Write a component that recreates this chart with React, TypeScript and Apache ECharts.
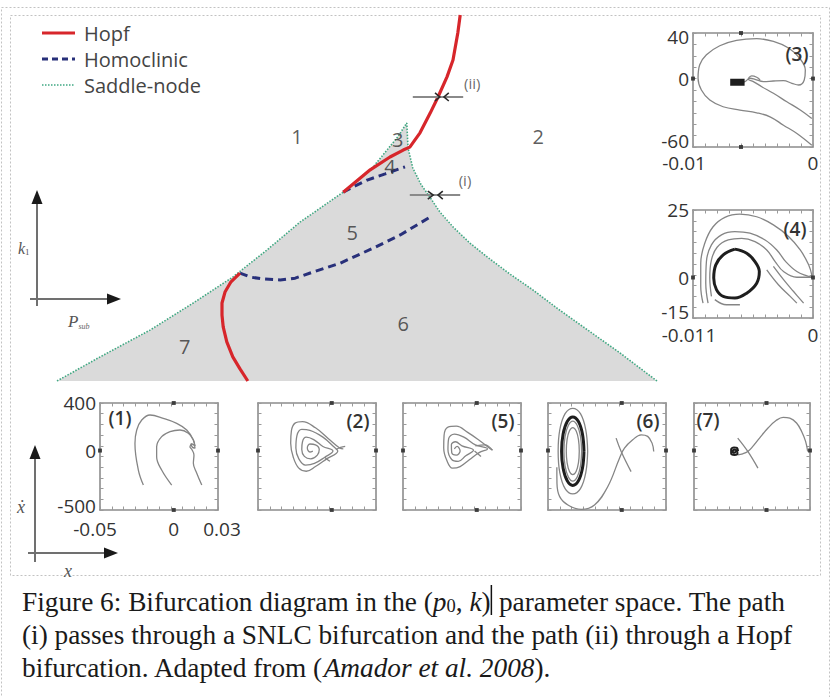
import React, { useEffect, useRef } from "react";
import * as echarts from "echarts";

type Pt = [number, number];

// ---------- bifurcation diagram in the (p_sub, k1) plane, relative units 0-100 ----------
const saddleNodeLeft: Pt[] = [[0, 0], [7.2, 6.6], [15.5, 13.9], [22.7, 21.3], [29.3, 28.4], [35, 35.8], [40.5, 43.4], [47.7, 51.6], [52.7, 58.5], [56.8, 66.7], [58.3, 70.5]];
const saddleNodeRight: Pt[] = [[58.3, 70.5], [58.5, 63.7], [59.3, 58.2], [60.7, 53.6], [62, 50.6], [63.8, 46.2], [66, 42.1], [68.8, 37.7], [71.7, 33.9], [75.5, 29.2], [79.3, 24.9], [83.5, 19.7], [87.7, 14.8], [93.8, 7.7], [100, 0]];
const hopfUpper: Pt[] = [[67.2, 100], [66.8, 95.1], [66, 87.7], [65, 83.1], [63.5, 77.6], [62.2, 73.2], [60.5, 67.8], [58.8, 63.9], [57.7, 63.1], [55.5, 61.2], [52.2, 57.7], [47.7, 51.6]];
const hopfLower: Pt[] = [[30.5, 29.5], [29, 27.1], [28, 24.3], [27.5, 21.3], [27.5, 18], [27.7, 14.8], [28.3, 10.7], [29.3, 6.6], [30.5, 3.3], [31.8, 0]];
const homoclinicUpper: Pt[] = [[47.7, 51.6], [49.7, 53.3], [51.7, 54.9], [54.7, 56.6], [58, 58.5]];
const homoclinicLower: Pt[] = [[30.5, 29.5], [32.2, 28.4], [34.2, 27.9], [37.2, 27.6], [39.7, 28.1], [42.2, 29.5], [47.2, 32.2], [52.7, 36.3], [57.2, 39.9], [62.2, 44.8]];

const regionLabels: [number, number, string][] = [[40, 66.7, "1"], [80.2, 66.7, "2"], [56.8, 66.1, "3"], [55.5, 58.5, "4"], [49.2, 40.7, "5"], [57.7, 15.8, "6"], [21.3, 9.3, "7"]];
const pathLabels: [number, number, string][] = [[68, 54.9, "(i)"], [69.2, 81.4, "(ii)"]];
const pathShafts: Pt[][] = [[[59.3, 77.6], [67.7, 77.6]], [[58.8, 50.8], [67.2, 50.8]]];
const pathHeads: Pt[][] = [
  [[63, 78.7], [63.8, 77.6], [63, 76.5]], [[65.3, 78.7], [64.5, 77.6], [65.3, 76.5]],
  [[61.8, 51.9], [62.7, 50.8], [61.8, 49.7]], [[64.3, 51.9], [63.5, 50.8], [64.3, 49.7]],
];

// ---------- phase portraits (x, x-dot) ----------
const phase3Thin: Pt[][] = [
  [[-0.0001, -58.5], [-0.00134, -48.2], [-0.00246, -40.9], [-0.00358, -33.5], [-0.00469, -30], [-0.00609, -27.6], [-0.00749, -24.7], [-0.0086, -18.8], [-0.0093, -10], [-0.00958, 0.3], [-0.00944, 12.1], [-0.00888, 20.9], [-0.00777, 28.8], [-0.00637, 33.5], [-0.00469, 35], [-0.0033, 32.6], [-0.00204, 26.8], [-0.00112, 17.9], [-0.00064, 7.6], [-0.00073, -1.2], [-0.0012, -5.6], [-0.00176, -4.1], [-0.00246, -1.8], [-0.0033, -2.1], [-0.00413, -2.6], [-0.00483, -0.6], [-0.00525, 0.3], [-0.00567, -2.6], [-0.00609, -3.5]],
  [[-0.0001, -35], [-0.00106, -27.6], [-0.00218, -20.3], [-0.0033, -12.9], [-0.00427, -7.1], [-0.00497, -2.6], [-0.00539, -0.6], [-0.00511, 2.4], [-0.00469, 1.2], [-0.00441, -1.2]],
];
const phase3Core: Pt[][] = [[[-0.0069, -3.3], [-0.0057, -3.3]]];

const phase4Thin: Pt[][] = [
  [[-0.01008, -9.5], [-0.01029, -3.3], [-0.01029, 5.3], [-0.00992, 12.7], [-0.00916, 18.8], [-0.00808, 22.3], [-0.0067, 23.5], [-0.00516, 22.5], [-0.00363, 19.5], [-0.00224, 15.2], [-0.00117, 10.2], [-0.0004, 4.7], [-0.00009, 0.6]],
  [[-0.00962, -9.5], [-0.00983, -2.1], [-0.00977, 5.9], [-0.00931, 12.1], [-0.00839, 15.8], [-0.00716, 17], [-0.00578, 16.4], [-0.00439, 13.9], [-0.00332, 10.2], [-0.0025, 5.9], [-0.00148, 2.2], [-0.00055, 0.6], [-0.00009, 0.1]],
  [[-0.00931, -7], [-0.00946, -0.2], [-0.00931, 6.5], [-0.00879, 11.2], [-0.00777, 13.9], [-0.00654, 14.5], [-0.00532, 13.3], [-0.00424, 10.2], [-0.00347, 5.9], [-0.0027, 2.2], [-0.00148, 0.1], [-0.00009, 0.1]],
  [[-0.00363, 4.1], [-0.0027, -0.8], [-0.00178, -5.2], [-0.00086, -9.5]],
  [[-0.00424, 2.8], [-0.00317, -2.7], [-0.00209, -7], [-0.00148, -9.5]],
  [[-0.009, -8.2], [-0.00793, -10.1], [-0.0067, -10.1]],
];
const phase4Core: Pt[][] = [
  [[-0.00716, 10.5], [-0.00608, 9], [-0.00532, 5.9], [-0.00492, 2.2], [-0.00516, -2.1], [-0.00608, -5.8], [-0.00716, -7.6], [-0.00823, -7], [-0.00885, -4.5], [-0.0091, -0.2], [-0.00891, 4.7], [-0.00823, 8.4], [-0.00716, 10.5]],
];

const phase1Thin: Pt[][] = [
  [[-0.0206, -290], [-0.024, -164], [-0.0263, 60], [-0.0251, 173], [-0.0217, 257], [-0.0161, 299], [-0.0071, 271], [0.002, 229], [0.0088, 173], [0.0133, 89], [0.0144, 20], [0.0125, 30], [0.0118, 60]],
  [[-0.0014, -290], [-0.0082, -164], [-0.0116, -52], [-0.0116, 32], [-0.0082, 117], [-0.0025, 159], [0.0042, 173], [0.0099, 145], [0.0133, 89], [0.0144, 38]],
  [[0.019, -290], [0.0156, -191], [0.0133, -107], [0.0137, -37], [0.0122, 11], [0.011, 30], [0.0124, 55], [0.0144, 38]],
];

// panels (2), (5), (6), (7): percent of the panel extent
const phase2Thin: Pt[][] = [
  [[72.3, 57.1], [69.2, 58], [59.7, 66.7], [48.7, 76.8], [37.7, 82.6], [31.4, 81.2], [28.3, 73.9], [27.7, 62.3], [29.9, 49.3], [34.6, 39.1], [40.9, 36.2], [48.7, 40.6], [58.2, 47.8], [67.6, 55.1], [64.5, 58.8], [55, 68.1], [44, 74.5], [37.1, 75.4], [33, 69.6], [32.1, 58], [34.6, 47.8], [40.3, 42], [47.8, 43.5], [56.6, 49.3], [63.5, 55.1], [55, 59.4], [47.2, 65.8], [40.9, 68.1], [37.7, 63.8], [37.1, 56.5], [39.3, 50.1], [44.7, 47.8], [50.3, 51.3], [51.9, 56.5], [48.7, 60.9], [44, 61.7], [41.8, 58], [44, 54.2], [46.5, 55.1]],
  [[66, 56.5], [70, 58.5], [73.9, 59.4]],
  [[56.6, 49.3], [59, 47], [61, 45.5]],
];
const phase5Thin: Pt[][] = [
  [[75.8, 55.9], [74.2, 57.1], [64.5, 65.2], [54.8, 72.5], [45.2, 78.3], [38.1, 77.4], [34.8, 69.6], [34.5, 58], [37.1, 46.4], [41.9, 39.1], [48.4, 40.6], [56.5, 47.2], [64.5, 53.6], [71.6, 57.1], [61.3, 60.9], [51.6, 68.1], [43.5, 71], [38.7, 66.7], [38.1, 56.5], [41.3, 47.2], [46.8, 45.5], [53.2, 50.7], [59.7, 55.9], [50, 60], [44.5, 63.8], [41, 60.9], [41.3, 53.6], [45.2, 51.3], [48.4, 55.1], [45.8, 59.4], [43.5, 57.1]],
  [[61.3, 60], [69.4, 60.9], [75.8, 55.9]],
  [[60.6, 55.1], [66.1, 50.1]],
];
const phase6Thin: Pt[][] = [
  [[33.6, 55], [32, 75], [27.5, 90], [21, 95], [14.5, 90], [10, 75], [8.6, 55], [10, 35], [14.5, 20], [21, 15], [27.5, 20], [32, 35], [33.6, 55]],
  [[28.5, 55], [27.5, 69], [24.8, 79], [21, 83], [17.2, 79], [14.5, 69], [13.5, 55], [14.5, 41], [17.2, 31], [21, 27], [24.8, 31], [27.5, 41], [28.5, 55]],
  [[26.5, 55], [25.8, 66], [23.8, 74], [21, 77], [18.2, 74], [16.2, 66], [15.5, 55], [16.2, 44], [18.2, 36], [21, 33], [23.8, 36], [25.8, 44], [26.5, 55]],
  [[7.5, 40], [7.6, 25], [9.9, 12.5], [16.9, 4.7], [28.2, 0.6], [39.4, 4.7], [50.7, 21.9], [60.6, 48.4], [64.8, 57.8], [71.8, 65.6], [78.9, 70.3], [84.5, 68.8], [88.2, 62.5], [89.6, 54.7]],
  [[57.7, 67.2], [62, 54.7], [70.4, 35.9]],
];
const phase6Core: Pt[][] = [
  [[30.5, 55], [29.2, 71], [25.8, 82.7], [21, 87], [16.3, 82.7], [12.8, 71], [11.5, 55], [12.8, 39], [16.3, 27.3], [21, 23], [25.8, 27.3], [29.2, 39], [30.5, 55]],
];
const phase7Thin: Pt[][] = [
  [[37.7, 51.6], [42, 52.5], [46.4, 54.7], [50.7, 59.4], [56.5, 67.2], [63.8, 76.6], [71, 83.8], [76.8, 86.6], [82.6, 85.9], [88.4, 81.3], [92.8, 73.4], [96.2, 64.1], [98, 54.7]],
  [[37.7, 67.2], [46.4, 54.7], [55.1, 39.1]],
];
const phase7Core: Pt[][] = [
  [[38, 55], [37, 58], [34.5, 58.5], [32, 56.5], [32, 53], [35, 51.5], [37.5, 53], [36.5, 56], [34.5, 56.3], [33.5, 54.5], [35, 53.5], [36, 55]],
];

// axis ranges and tick labels of the portraits
const range3X: Pt = [-0.01, 0];
const range3Y: Pt = [-60, 40];
const labels3X = [-0.01, 0];
const labels3Y = [-60, 0, 40];
const range4X: Pt = [-0.011, 0];
const range4Y: Pt = [-15, 25];
const labels4X = [-0.011, 0];
const labels4Y = [-15, 0, 25];
const range1X: Pt = [-0.05, 0.03];
const range1Y: Pt = [-500, 400];
const labels1X = [-0.05, 0, 0.03];
const labels1Y = [-500, 0, 400];
const rangePct: Pt = [0, 100];

const SANS = '"Open Sans", "Noto Sans", sans-serif';
const SERIF = '"Liberation Serif", "DejaVu Serif", serif';

type Shift = { lo: number; hi: number; margin: number };
type Panel = {
  tag: string; tagAt: Pt; box: { left: number; top: number; width: number; height: number };
  xr: Pt; yr: Pt; xLabels?: number[]; yLabels?: number[]; xShift?: Shift; yShift?: Shift;
  dots: Pt[]; thin: Pt[][]; core: Pt[][]; coreWidth: number;
};

const pctDots: Pt[] = [[62.5, 100], [62.5, 0], [0, 55.6], [100, 55.6]];

const panels: Panel[] = [
  { tag: "(3)", tagAt: [797, 54], box: { left: 693, top: 33, width: 120, height: 114 }, xr: range3X, yr: range3Y, xLabels: labels3X, yLabels: labels3Y,
    xShift: { lo: 18, hi: 0, margin: 6 }, yShift: { lo: 12, hi: 8, margin: 4 },
    dots: [[-0.006, 40], [-0.006, -60], [-0.01, 0], [0, 0]], thin: phase3Thin, core: phase3Core, coreWidth: 7 },
  { tag: "(4)", tagAt: [795, 229], box: { left: 693, top: 210, width: 120, height: 108 }, xr: range4X, yr: range4Y, xLabels: labels4X, yLabels: labels4Y,
    xShift: { lo: 8, hi: 0, margin: 7 }, yShift: { lo: 12, hi: 0, margin: 4 },
    dots: [[-0.011, 0], [0, 0]], thin: phase4Thin, core: phase4Core, coreWidth: 3 },
  { tag: "(1)", tagAt: [120, 418], box: { left: 100, top: 403, width: 118, height: 107 }, xr: range1X, yr: range1Y, xLabels: labels1X, yLabels: labels1Y,
    xShift: { lo: 10, hi: 8, margin: 9 }, yShift: { lo: 8, hi: 0, margin: 4 },
    dots: [[0, 400], [0, -500], [-0.05, 0], [0.03, 0]], thin: phase1Thin, core: [], coreWidth: 1 },
  { tag: "(2)", tagAt: [358, 421], box: { left: 258, top: 403, width: 118, height: 107 }, xr: rangePct, yr: rangePct,
    dots: pctDots, thin: phase2Thin, core: [], coreWidth: 1 },
  { tag: "(5)", tagAt: [503, 421], box: { left: 403, top: 403, width: 118, height: 107 }, xr: rangePct, yr: rangePct,
    dots: pctDots, thin: phase5Thin, core: [], coreWidth: 1 },
  { tag: "(6)", tagAt: [648, 421], box: { left: 548, top: 403, width: 118, height: 107 }, xr: rangePct, yr: rangePct,
    dots: pctDots, thin: phase6Thin, core: phase6Core, coreWidth: 3 },
  { tag: "(7)", tagAt: [708, 420], box: { left: 694, top: 403, width: 116, height: 107 }, xr: rangePct, yr: rangePct,
    dots: pctDots, thin: phase7Thin, core: phase7Core, coreWidth: 2 },
];

const tickValues = (r: Pt) => Array.from({ length: 11 }, (_, i) => r[0] + ((r[1] - r[0]) * i) / 10);

function frameAxis(dim: "x" | "y", gi: number, r: Pt, position: string, labels?: number[], shift?: Shift): any {
  const labelFont = { fontSize: 19, color: "#333", fontFamily: SANS };
  const sh = shift || { lo: 0, hi: 0, margin: 4 };
  // extra padding nudges the end labels away from the frame corners
  const loPad = dim === "x" ? [0, sh.lo, 0, 0] : [0, 0, sh.lo, 0];
  const hiPad = dim === "x" ? [0, 0, 0, sh.hi] : [sh.hi, 0, 0, 0];
  return {
    type: "value", gridIndex: gi, min: r[0], max: r[1], position,
    axisLine: { show: true, onZero: false, lineStyle: { color: "#8c8c8c", width: 1.6 } },
    axisTick: { show: true, inside: true, length: 3.5, customValues: tickValues(r), lineStyle: { color: "#9a9a9a", width: 1 } },
    axisLabel: labels
      ? {
          show: true, customValues: labels, margin: sh.margin, ...labelFont,
          formatter: (v: number) => (v === r[0] && sh.lo ? `{lo|${v}}` : v === r[1] && sh.hi ? `{hi|${v}}` : `${v}`),
          rich: { lo: { ...labelFont, padding: loPad }, hi: { ...labelFont, padding: hiPad } },
        }
      : { show: false },
    splitLine: { show: false },
  };
}

function buildOption(): any {
  const grid: any[] = [{ left: 57, top: 15, width: 600, height: 366 }];
  const xAxis: any[] = [{ type: "value", gridIndex: 0, min: 0, max: 100, show: false }];
  const yAxis: any[] = [{ type: "value", gridIndex: 0, min: 0, max: 100, show: false }];
  const series: any[] = [];
  const main = { xAxisIndex: 0, yAxisIndex: 0, symbol: "none", silent: true };

  series.push({ ...main, type: "line", name: "Saddle-node", data: [...saddleNodeLeft, ...saddleNodeRight.slice(1)],
    lineStyle: { color: "#3fa882", width: 1.6, type: [1.5, 1.5] }, areaStyle: { color: "#dadada", opacity: 1, origin: "start" }, z: 1 });
  [hopfUpper, hopfLower].forEach((d) => series.push({ ...main, type: "line", name: "Hopf", data: d, lineStyle: { color: "#d7262b", width: 3.2 }, z: 4 }));
  [homoclinicUpper, homoclinicLower].forEach((d) => series.push({ ...main, type: "line", name: "Homoclinic", data: d, lineStyle: { color: "#28307a", width: 3, type: [8, 5] }, z: 3 }));
  series.push({ type: "lines", coordinateSystem: "cartesian2d", xAxisIndex: 0, yAxisIndex: 0, polyline: true, silent: true,
    data: pathShafts.map((c) => ({ coords: c })), lineStyle: { color: "#8a8a8a", width: 2, opacity: 1 }, z: 5 });
  series.push({ type: "lines", coordinateSystem: "cartesian2d", xAxisIndex: 0, yAxisIndex: 0, polyline: true, silent: true,
    data: pathHeads.map((c) => ({ coords: c })), lineStyle: { color: "#2a2a2a", width: 1.6, opacity: 1 }, z: 6 });
  series.push({ type: "scatter", xAxisIndex: 0, yAxisIndex: 0, data: regionLabels, symbolSize: 1, silent: true, itemStyle: { color: "rgba(0,0,0,0)" },
    label: { show: true, position: "inside", formatter: (p: any) => p.value[2], fontSize: 20, color: "#333", fontFamily: SANS }, z: 7 });
  series.push({ type: "scatter", xAxisIndex: 0, yAxisIndex: 0, data: pathLabels, symbolSize: 1, silent: true, itemStyle: { color: "rgba(0,0,0,0)" },
    label: { show: true, position: "inside", formatter: (p: any) => p.value[2], fontSize: 15, color: "#444", fontFamily: SANS }, z: 7 });

  const graphic: any[] = [];

  panels.forEach((p, k) => {
    const gi = k + 1;
    grid.push(p.box);
    const xi = xAxis.length;
    const yi = yAxis.length;
    xAxis.push(frameAxis("x", gi, p.xr, "bottom", p.xLabels, p.xShift), frameAxis("x", gi, p.xr, "top"));
    yAxis.push(frameAxis("y", gi, p.yr, "left", p.yLabels, p.yShift), frameAxis("y", gi, p.yr, "right"));
    const on = { xAxisIndex: xi, yAxisIndex: yi, symbol: "none", silent: true };
    p.thin.forEach((d) => series.push({ ...on, type: "line", data: d, smooth: 0.4, lineStyle: { color: "#858585", width: 1.3 }, z: 2 }));
    p.core.forEach((d) => series.push({ ...on, type: "line", data: d, smooth: 0.4, lineStyle: { color: "#1e1e1e", width: p.coreWidth }, z: 3 }));
    series.push({ type: "scatter", xAxisIndex: xi, yAxisIndex: yi, data: p.dots, symbol: "rect", symbolSize: 4, clip: false, silent: true, itemStyle: { color: "#222" }, z: 4 });
    graphic.push({ type: "text", x: p.tagAt[0], y: p.tagAt[1], style: { text: p.tag, fontSize: 19, fontWeight: 600, fontFamily: SANS, fill: "#333", align: "center", verticalAlign: "middle" }, z: 10 });
  });

  // page frames
  const frame = { fill: "none", stroke: "#c2c2c2", lineWidth: 1, lineDash: [2, 2] };
  graphic.push({ type: "rect", shape: { x: 1.5, y: 7.5, width: 828, height: 720 }, style: frame, z: 0 });
  graphic.push({ type: "rect", shape: { x: 10.5, y: 15.5, width: 810, height: 560 }, style: frame, z: 0 });

  // legend
  const legendItems = [
    { label: "Hopf", y: 33, stroke: "#d7262b", width: 3, dash: null },
    { label: "Homoclinic", y: 59, stroke: "#28307a", width: 3, dash: [6, 4] },
    { label: "Saddle-node", y: 85, stroke: "#3fa882", width: 1.5, dash: [1.5, 1.5] },
  ];
  legendItems.forEach((it) => {
    graphic.push({ type: "line", shape: { x1: 42, y1: it.y, x2: 75, y2: it.y }, style: { stroke: it.stroke, lineWidth: it.width, lineDash: it.dash }, z: 10 });
    graphic.push({ type: "text", x: 84, y: it.y, style: { text: it.label, fontSize: 20, fontFamily: SANS, fill: "#444", verticalAlign: "middle" }, z: 10 });
  });

  // schematic axis arrows
  const arrowLine = { stroke: "#707070", lineWidth: 2 };
  graphic.push({ type: "line", shape: { x1: 37, y1: 306, x2: 37, y2: 200 }, style: arrowLine });
  graphic.push({ type: "polygon", shape: { points: [[37, 190], [31.5, 204], [42.5, 204]] }, style: { fill: "#1a1a1a" } });
  graphic.push({ type: "line", shape: { x1: 30, y1: 299, x2: 110, y2: 299 }, style: arrowLine });
  graphic.push({ type: "polygon", shape: { points: [[121, 299], [107, 293.5], [107, 304.5]] }, style: { fill: "#1a1a1a" } });
  graphic.push({ type: "text", x: 18, y: 247, style: { text: "{k|k}{s|1}", verticalAlign: "middle",
    rich: { k: { fontSize: 16, fontStyle: "italic", fontFamily: SERIF, fill: "#555", lineHeight: 18, verticalAlign: "bottom" }, s: { fontSize: 9, fontFamily: SERIF, fill: "#555", lineHeight: 10, verticalAlign: "bottom" } } } });
  graphic.push({ type: "text", x: 68, y: 321, style: { text: "{p|P}{s|sub}", verticalAlign: "middle",
    rich: { p: { fontSize: 17, fontStyle: "italic", fontFamily: SERIF, fill: "#555", lineHeight: 18, verticalAlign: "bottom" }, s: { fontSize: 8, fontStyle: "italic", fontFamily: SERIF, fill: "#666", lineHeight: 8, verticalAlign: "bottom" } } } });

  graphic.push({ type: "line", shape: { x1: 35, y1: 562, x2: 35, y2: 456 }, style: arrowLine });
  graphic.push({ type: "polygon", shape: { points: [[35, 445], [29.5, 459], [40.5, 459]] }, style: { fill: "#1a1a1a" } });
  graphic.push({ type: "line", shape: { x1: 28, y1: 553, x2: 106, y2: 553 }, style: arrowLine });
  graphic.push({ type: "polygon", shape: { points: [[118, 553], [104, 547.5], [104, 558.5]] }, style: { fill: "#1a1a1a" } });
  graphic.push({ type: "text", x: 21, y: 507, style: { text: "ẋ", fontSize: 18, fontStyle: "italic", fontFamily: SERIF, fill: "#555", align: "center", verticalAlign: "middle" } });
  graphic.push({ type: "text", x: 68, y: 571, style: { text: "x", fontSize: 18, fontStyle: "italic", fontFamily: SERIF, fill: "#555", align: "center", verticalAlign: "middle" } });

  // caption
  const cap = { fontSize: 27.3, fontFamily: SERIF, fill: "#1a1a1a", lineHeight: 31, verticalAlign: "bottom" };
  const capRich = {
    n: cap,
    i: { ...cap, fontStyle: "italic" },
    s: { ...cap, fontSize: 18.5, lineHeight: 15 },
    bar: { width: 1.5, height: 30, backgroundColor: "#111", lineHeight: 31, verticalAlign: "bottom" },
  };
  const captionLines = [
    "{n|Figure 6: Bifurcation diagram in the (}{i|p}{s|0}{n|, }{i|k}{n|)}{bar| }{n| parameter space. The path}",
    "{n|(i) passes through a SNLC bifurcation and the path (ii) through a Hopf}",
    "{n|bifurcation. Adapted from (}{i|Amador et al. 2008}{n|).}",
  ];
  captionLines.forEach((t, i) => {
    graphic.push({ type: "text", x: 22, y: 615 + i * 33, style: { text: t, rich: capRich, verticalAlign: "bottom", fontFamily: SERIF, fontSize: 27.3 }, z: 10 });
  });

  return { animation: false, backgroundColor: "#ffffff", textStyle: { fontFamily: SANS }, grid, xAxis, yAxis, series, graphic };
}

export default function App() {
  const ref = useRef<HTMLDivElement>(null);
  useEffect(() => {
    if (!ref.current) return;
    const chart = echarts.init(ref.current, null, { renderer: "svg" });
    chart.setOption(buildOption());
    return () => chart.dispose();
  }, []);
  return <div ref={ref} style={{ position: "absolute", left: 0, top: 0, width: 832, height: 697, background: "#fff" }} />;
}
